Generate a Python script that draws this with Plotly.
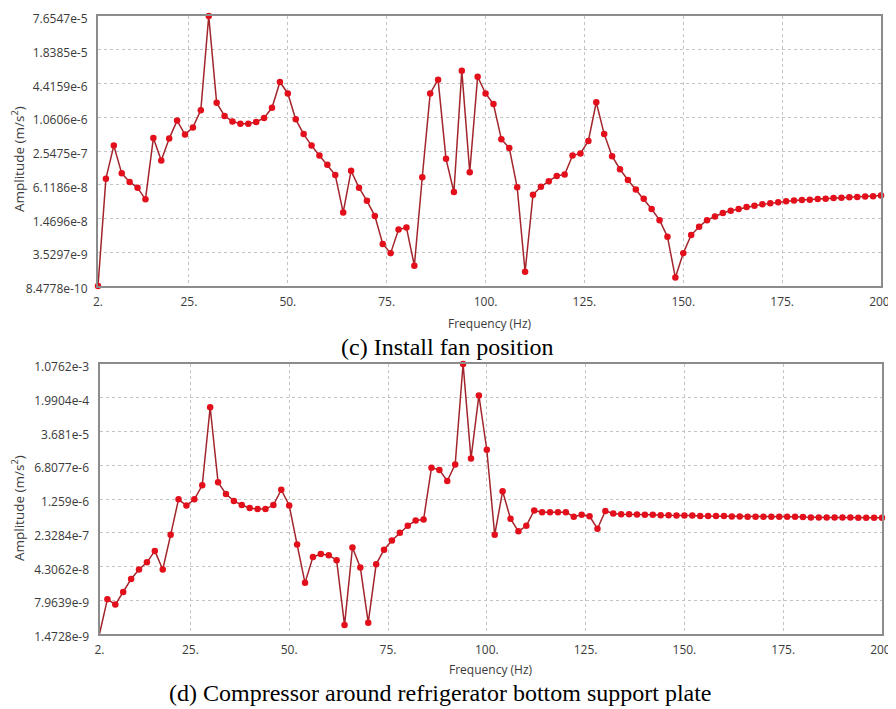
import math
import plotly.graph_objects as go

freq = list(range(2, 201, 2))

amp_fan = [
    8.48e-10, 7.9e-8, 3.2e-7, 9.9e-8, 6.9e-8, 5.4e-8, 3.3e-8, 4.4e-7, 1.7e-7, 4.3e-7,
    9.2e-7, 5.1e-7, 6.9e-7, 1.43e-6, 7.65e-5, 1.95e-6, 1.12e-6, 8.9e-7, 8.1e-7, 8.1e-7,
    8.7e-7, 1.03e-6, 1.58e-6, 4.7e-6, 2.9e-6, 9.7e-7, 5.2e-7, 3.2e-7, 2.1e-7, 1.42e-7,
    9.2e-8, 1.9e-8, 1.1e-7, 5.4e-8, 3.1e-8, 1.64e-8, 5.0e-9, 3.4e-9, 9.2e-9, 1.0e-8,
    2.0e-9, 8.4e-8, 2.9e-6, 5.2e-6, 1.83e-7, 4.5e-8, 7.6e-6, 1.04e-7, 5.9e-6, 2.9e-6,
    1.85e-6, 4.2e-7, 2.9e-7, 5.5e-8, 1.54e-9, 4.0e-8, 5.6e-8, 7.1e-8, 8.9e-8, 9.4e-8,
    2.1e-7, 2.3e-7, 3.9e-7, 2.0e-6, 5.2e-7, 2.05e-7, 1.18e-7, 7.5e-8, 5.0e-8, 3.4e-8,
    2.2e-8, 1.37e-8, 6.8e-9, 1.21e-9, 3.4e-9, 7.3e-9, 1.04e-8, 1.37e-8, 1.6e-8, 1.85e-8,
    2.04e-8, 2.2e-8, 2.38e-8, 2.52e-8, 2.67e-8, 2.79e-8, 2.91e-8, 3.03e-8, 3.13e-8, 3.21e-8,
    3.26e-8, 3.36e-8, 3.4e-8, 3.5e-8, 3.55e-8, 3.61e-8, 3.66e-8, 3.71e-8, 3.76e-8, 3.87e-8,
]

amp_comp = [
    1.47e-9, 8.4e-9, 6.4e-9, 1.21e-8, 2.3e-8, 3.7e-8, 5.3e-8, 9.4e-8, 3.7e-8, 2.1e-7,
    1.24e-6, 9.1e-7, 1.24e-6, 2.5e-6, 1.24e-4, 2.9e-6, 1.62e-6, 1.14e-6, 9.3e-7, 8.0e-7,
    7.6e-7, 7.6e-7, 9.3e-7, 2.0e-6, 9.1e-7, 1.29e-7, 1.9e-8, 6.9e-8, 8.0e-8, 7.6e-8,
    5.9e-8, 2.3e-9, 1.11e-7, 4.1e-8, 2.6e-9, 4.8e-8, 1.0e-7, 1.58e-7, 2.33e-7, 3.3e-7,
    4.3e-7, 4.5e-7, 6.0e-6, 5.4e-6, 3.1e-6, 7.1e-6, 1.076e-3, 9.5e-6, 2.24e-4, 1.48e-5,
    2.1e-7, 1.85e-6, 4.7e-7, 2.5e-7, 3.3e-7, 7.1e-7, 6.5e-7, 6.5e-7, 6.5e-7, 6.5e-7,
    5.2e-7, 5.7e-7, 5.3e-7, 2.85e-7, 6.9e-7, 6.1e-7, 5.9e-7, 5.9e-7, 5.8e-7, 5.7e-7,
    5.7e-7, 5.6e-7, 5.6e-7, 5.5e-7, 5.5e-7, 5.5e-7, 5.35e-7, 5.35e-7, 5.35e-7, 5.35e-7,
    5.27e-7, 5.27e-7, 5.17e-7, 5.17e-7, 5.17e-7, 5.17e-7, 5.17e-7, 5.17e-7, 5.17e-7, 5.09e-7,
    5.0e-7, 5.0e-7, 5.0e-7, 5.0e-7, 5.0e-7, 5.0e-7, 4.9e-7, 4.9e-7, 4.9e-7, 4.9e-7,
]

x_tickvals = [2, 25, 50, 75, 100, 125, 150, 175, 200]
x_ticktext = ["2.", "25.", "50.", "75.", "100.", "125.", "150.", "175.", "200."]

y_ticks_fan = [8.4778e-10, 3.5297e-9, 1.4696e-8, 6.1186e-8, 2.5475e-7,
               1.0606e-6, 4.4159e-6, 1.8385e-5, 7.6547e-5]
y_text_fan = ["8.4778e-10", "3.5297e-9", "1.4696e-8", "6.1186e-8", "2.5475e-7",
              "1.0606e-6", "4.4159e-6", "1.8385e-5", "7.6547e-5"]
y_ticks_comp = [1.4728e-9, 7.9639e-9, 4.3062e-8, 2.3284e-7, 1.259e-6,
                6.8077e-6, 3.681e-5, 1.9904e-4, 1.0762e-3]
y_text_comp = ["1.4728e-9", "7.9639e-9", "4.3062e-8", "2.3284e-7", "1.259e-6",
               "6.8077e-6", "3.681e-5", "1.9904e-4", "1.0762e-3"]

captions = ["(c) Install fan position",
            "(d) Compressor around refrigerator bottom support plate"]

# the page body has an 8px margin, so the figure is drawn from (8, 8)
OFF = 8
W, H = 896 - OFF, 709 - OFF
LINE = "#a3252c"
MARK = "#e3101c"
TXT = "#3a3a3a"
FONT = "Open Sans, Noto Sans, sans-serif"
SERIF = "Liberation Serif, Times New Roman, serif"
EPS = 2e-4

fig = go.Figure()
for xa, ya, vals in (("x", "y", amp_fan), ("x2", "y2", amp_comp)):
    fig.add_trace(go.Scatter(x=freq, y=vals, mode="lines+markers", xaxis=xa, yaxis=ya,
                             line=dict(color=LINE, width=1.5),
                             marker=dict(color=MARK, size=6.5), cliponaxis=False,
                             showlegend=False))


def px_x(v):
    return (v - OFF) / W


def px_y(v):
    return 1 - (v - OFF) / H


common_x = dict(range=[2, 200], tickvals=x_tickvals, ticktext=x_ticktext,
                showgrid=True, gridcolor="#c4c4c4", griddash="dot", gridwidth=1,
                showline=True, linecolor="#8c8c8c", linewidth=2, mirror=True,
                ticks="", zeroline=False, automargin=False, ticklabelstandoff=4,
                ticklabeloverflow="allow",
                tickfont=dict(family=FONT, size=12, color=TXT))
common_y = dict(type="log", showgrid=True, gridcolor="#c4c4c4", griddash="dot", gridwidth=1,
                showline=True, linecolor="#8c8c8c", linewidth=2, mirror=True,
                ticks="", zeroline=False, ticklabelstandoff=6, automargin=False,
                ticklabeloverflow="allow", ticklabelshift=3,
                tickfont=dict(family=FONT, size=12, color=TXT))

fig.update_layout(
    width=W, height=H, margin=dict(l=0, r=0, t=0, b=0, autoexpand=False),
    paper_bgcolor="white", plot_bgcolor="white",
    xaxis=dict(domain=[px_x(98), px_x(881)], anchor="y", **common_x),
    yaxis=dict(domain=[px_y(286), px_y(16)], anchor="x",
               range=[math.log10(y_ticks_fan[0]) - EPS, math.log10(y_ticks_fan[-1]) + EPS],
               tickvals=y_ticks_fan, ticktext=y_text_fan, **common_y),
    xaxis2=dict(domain=[px_x(99.5), px_x(882)], anchor="y2", **common_x),
    yaxis2=dict(domain=[px_y(634), px_y(364)], anchor="x2",
                range=[math.log10(y_ticks_comp[0]) - EPS, math.log10(y_ticks_comp[-1]) + EPS],
                tickvals=y_ticks_comp, ticktext=y_text_comp, **common_y),
)


def note(x, y, text, font, angle=0):
    fig.add_annotation(x=px_x(x), y=px_y(y), xref="paper", yref="paper",
                       xanchor="center", yanchor="middle", text=text,
                       textangle=angle, showarrow=False, font=font)


for xc, yc in ((490, 323), (491, 669)):
    note(xc, yc, "Frequency (Hz)", dict(family=FONT, size=12, color=TXT))

for yc in (159, 508):
    note(18, yc, "Amplitude (m/s<sup>2</sup>)", dict(family=FONT, size=13.5, color=TXT), -90)

note(447, 347, captions[0], dict(family=SERIF, size=24, color="black"))
note(440, 693, captions[1], dict(family=SERIF, size=24, color="black"))

fig.write_html("out.html")
